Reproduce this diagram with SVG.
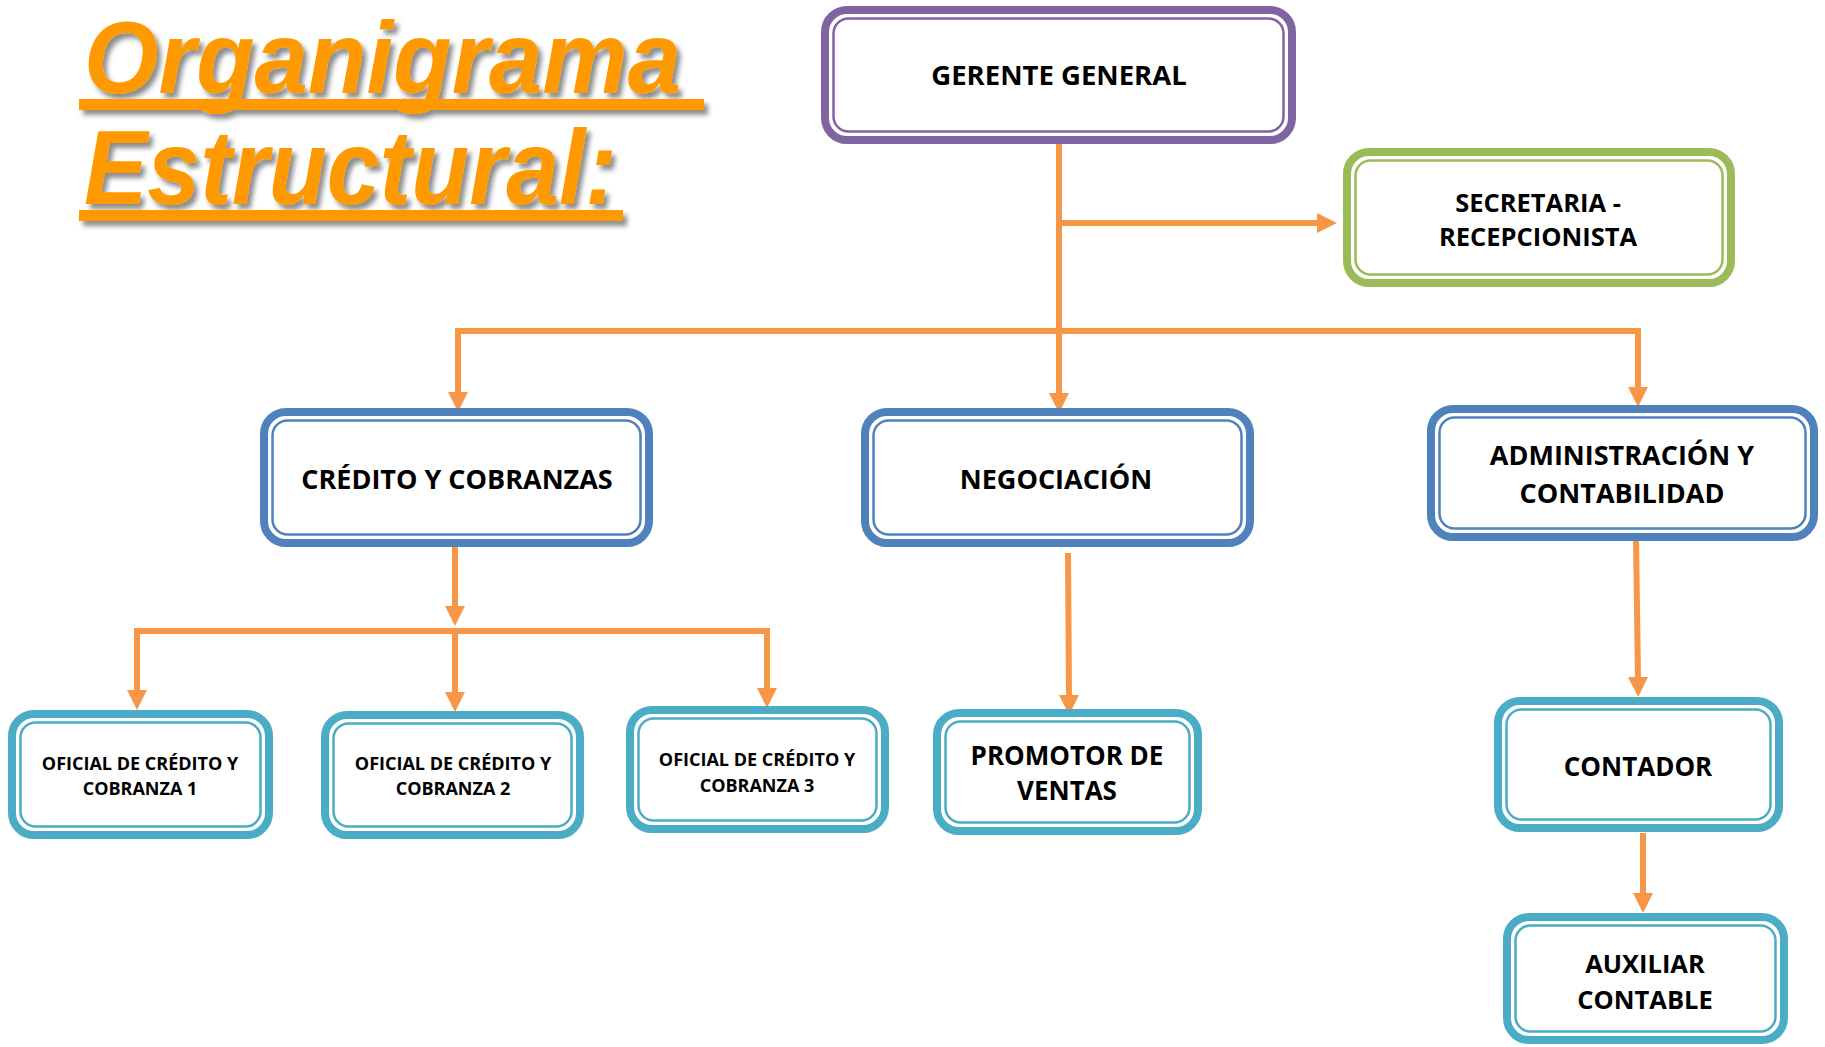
<svg xmlns="http://www.w3.org/2000/svg" width="1825" height="1047" viewBox="0 0 1825 1047">
<defs>
<style>
.outer{fill:#fff;stroke-width:8}
.inner{fill:none;stroke-width:2.5}
.purple{stroke:#8064A2}
.green{stroke:#9BBB59}
.blue{stroke:#4F81BD}
.teal{stroke:#4BACC6}
.lbl{font-family:"Open Sans","Liberation Sans",sans-serif;font-weight:700;fill:#000;text-anchor:middle}
.conn{fill:none;stroke:#F79646;stroke-width:6;stroke-linejoin:miter;stroke-linecap:butt}
.title{font-family:"Liberation Sans",Arial,sans-serif;font-weight:700;font-style:italic;font-size:106px;fill:#FF9900}
</style>
<marker id="arr" markerUnits="userSpaceOnUse" markerWidth="20" markerHeight="20" refX="2" refY="10" orient="auto">
<path d="M0,0 L20,10 L0,20 Z" fill="#F79646"/>
</marker>
<filter id="sh" filterUnits="userSpaceOnUse" x="0" y="0" width="780" height="260">
<feDropShadow dx="4" dy="5" stdDeviation="2.5" flood-color="#000" flood-opacity="0.45"/>
</filter>
</defs>

<g id="title" filter="url(#sh)">
<text class="title" x="84" y="92.5" font-size="102" style="font-size:102px" textLength="597" lengthAdjust="spacingAndGlyphs">Organigrama</text>
<rect x="79" y="99" width="625" height="11" fill="#FF9900"/>
<text class="title" x="84" y="204" textLength="533" lengthAdjust="spacingAndGlyphs">Estructural:</text>
<rect x="79" y="210" width="544" height="11" fill="#FF9900"/>
</g>

<g id="connectors">
<path class="conn" d="M1059,144 V395" marker-end="url(#arr)"/>
<path class="conn" d="M1059,223 H1319" marker-end="url(#arr)"/>
<path class="conn" d="M1059,331 H458 V394" marker-end="url(#arr)"/>
<path class="conn" d="M1059,331 H1638 V389" marker-end="url(#arr)"/>
<path class="conn" d="M455,547 V608" marker-end="url(#arr)"/>
<path class="conn" d="M455,631 H137 V692" marker-end="url(#arr)"/>
<path class="conn" d="M455,631 V694" marker-end="url(#arr)"/>
<path class="conn" d="M455,631 H767 V690" marker-end="url(#arr)"/>
<path class="conn" d="M1068,553 L1069,697" marker-end="url(#arr)"/>
<path class="conn" d="M1636,537 L1638,679" marker-end="url(#arr)"/>
<path class="conn" d="M1643,833 V895" marker-end="url(#arr)"/>
</g>

<g id="gerente-general">
<rect class="outer purple" x="825" y="10" width="467" height="130" rx="22"/>
<rect class="inner purple" x="833.5" y="18.5" width="450" height="113" rx="15"/>
<text class="lbl" x="1059" y="85" font-size="27.5">GERENTE GENERAL</text>
</g>

<g id="secretaria-recepcionista">
<rect class="outer green" x="1347" y="152" width="384" height="131" rx="22"/>
<rect class="inner green" x="1355.5" y="160.5" width="367" height="114" rx="15"/>
<text class="lbl" x="1538" y="212" font-size="25.5">SECRETARIA -</text>
<text class="lbl" x="1538" y="246" font-size="25.5">RECEPCIONISTA</text>
</g>

<g id="credito-cobranzas">
<rect class="outer blue" x="264" y="412" width="385" height="131" rx="22"/>
<rect class="inner blue" x="272.5" y="420.5" width="368" height="114" rx="15"/>
<text class="lbl" x="457" y="489" font-size="27">CRÉDITO Y COBRANZAS</text>
</g>

<g id="negociacion">
<rect class="outer blue" x="865" y="412" width="385" height="131" rx="22"/>
<rect class="inner blue" x="873.5" y="420.5" width="368" height="114" rx="15"/>
<text class="lbl" x="1056" y="489" font-size="27">NEGOCIACIÓN</text>
</g>

<g id="administracion-contabilidad">
<rect class="outer blue" x="1431" y="409" width="383" height="128" rx="22"/>
<rect class="inner blue" x="1439.5" y="417.5" width="366" height="111" rx="15"/>
<text class="lbl" x="1622" y="465" font-size="27">ADMINISTRACIÓN Y</text>
<text class="lbl" x="1622" y="503" font-size="27">CONTABILIDAD</text>
</g>

<g id="oficial-1">
<rect class="outer teal" x="12" y="714" width="257" height="121" rx="22"/>
<rect class="inner teal" x="20.5" y="722.5" width="240" height="104" rx="15"/>
<text class="lbl" x="140" y="770" font-size="18">OFICIAL DE CRÉDITO Y</text>
<text class="lbl" x="140" y="795" font-size="18">COBRANZA 1</text>
</g>

<g id="oficial-2">
<rect class="outer teal" x="325" y="715" width="255" height="120" rx="22"/>
<rect class="inner teal" x="333.5" y="723.5" width="238" height="103" rx="15"/>
<text class="lbl" x="453" y="770" font-size="18">OFICIAL DE CRÉDITO Y</text>
<text class="lbl" x="453" y="795" font-size="18">COBRANZA 2</text>
</g>

<g id="oficial-3">
<rect class="outer teal" x="630" y="710" width="255" height="119" rx="22"/>
<rect class="inner teal" x="638.5" y="718.5" width="238" height="102" rx="15"/>
<text class="lbl" x="757" y="766" font-size="18">OFICIAL DE CRÉDITO Y</text>
<text class="lbl" x="757" y="792" font-size="18">COBRANZA 3</text>
</g>

<g id="promotor-ventas">
<rect class="outer teal" x="937" y="713" width="261" height="118" rx="22"/>
<rect class="inner teal" x="945.5" y="721.5" width="244" height="101" rx="15"/>
<text class="lbl" x="1067" y="765" font-size="26">PROMOTOR DE</text>
<text class="lbl" x="1067" y="800" font-size="26">VENTAS</text>
</g>

<g id="contador">
<rect class="outer teal" x="1498" y="701" width="281" height="127" rx="22"/>
<rect class="inner teal" x="1506.5" y="709.5" width="264" height="110" rx="15"/>
<text class="lbl" x="1638" y="776" font-size="26">CONTADOR</text>
</g>

<g id="auxiliar-contable">
<rect class="outer teal" x="1507" y="917" width="277" height="123" rx="22"/>
<rect class="inner teal" x="1515.5" y="925.5" width="260" height="106" rx="15"/>
<text class="lbl" x="1645" y="973" font-size="25.5">AUXILIAR</text>
<text class="lbl" x="1645" y="1009" font-size="25.5">CONTABLE</text>
</g>
</svg>
